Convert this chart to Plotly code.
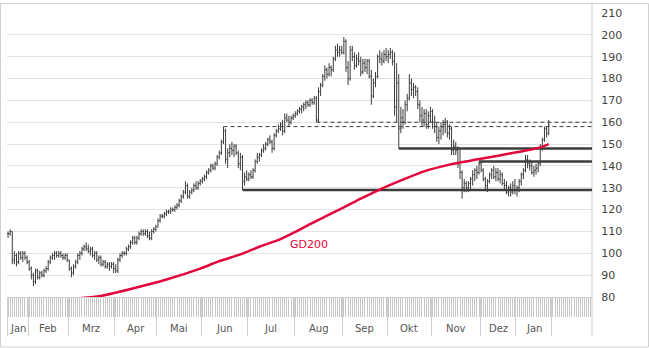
import plotly.graph_objects as go

# ---------------- data (trading-day index) ----------------
open_ = [109,109,110,97,99,96,100,98,100,98,
         96,93,90,87,92,89,91,90,92,93,
         96,98,99,100,99,100,99,98,99,
         97,93,91,94,96,99,100,102,103,102,101,
         102,99,100,97,98,95,96,94,95,94,95,
         93,92,97,99,100,100,102,103,105,107,
         105,107,109,110,109,110,108,107,110,111,
         112,115,117,117,118,119,119,120,120,121,
         122,124,126,128,131,126,128,129,131,130,132,
         133,134,135,137,138,140,139,141,144,146,
         151,156,143,146,148,147,149,146,141,144,133,135,
         134,136,135,138,142,144,145,147,148,150,152,151,
         148,154,156,157,159,156,162,161,160,162,
         163,164,165,166,167,168,169,168,170,169,
         171,161,174,177,181,184,182,185,184,189,193,192,193,
         192,197,185,180,193,190,186,189,188,183,187,
         185,188,181,172,178,181,190,189,188,191,
         190,191,192,188,167,178,157,162,160,168,171,
         178,175,176,174,168,163,161,164,159,163,
         165,160,158,153,156,158,159,160,155,157,147,149,
         147,141,137,130,132,130,132,134,136,138,137,
         141,138,134,131,133,136,138,135,137,134,
         136,132,131,128,130,128,131,
         129,130,133,136,138,143,141,140,137,138,139,141,148,152,157,155]

high = [110,111,110,101,100,101,101,101,101,99,
        97,94,91,93,93,92,92,93,94,97,
        99,100,101,101,101,101,100,100,100,
        97,94,95,97,100,101,103,104,105,104,103,
        103,101,101,99,99,97,97,96,96,96,96,
        95,98,100,101,101,103,104,106,108,108,
        108,110,111,111,111,111,110,111,112,113,
        116,118,118,119,120,120,121,121,122,123,
        125,127,129,133,132,129,130,132,133,133,134,
        135,136,138,139,141,141,142,145,147,152,
        158,157,148,150,151,150,150,147,146,145,137,138,
        137,138,139,143,146,146,148,150,151,153,154,152,
        155,157,159,160,161,164,164,163,163,164,
        165,166,167,168,169,170,170,171,171,172,
        172,176,178,182,186,185,187,186,190,195,196,195,195,
        199,198,188,195,195,192,191,192,190,189,189,
        189,189,184,180,183,191,193,192,193,194,
        193,194,193,192,187,182,167,166,170,173,182,
        180,178,177,176,170,167,166,166,165,167,
        166,163,160,158,160,161,162,161,159,158,152,151,
        149,148,138,134,133,133,135,138,139,140,142,
        142,139,135,134,137,139,140,139,139,138,
        137,134,133,131,132,133,134,
        131,134,137,139,145,145,143,142,140,141,142,150,153,158,158,161]

low = [107,108,95,95,94,95,97,96,97,95,
       92,88,85,86,88,88,89,89,91,92,
       95,97,97,98,98,98,97,97,96,
       92,89,90,93,95,97,99,101,101,100,99,
       98,97,96,95,94,94,93,93,92,93,91,
       91,91,96,98,99,99,101,102,104,104,
       104,106,108,108,108,107,106,106,109,110,
       112,114,116,116,117,118,118,119,119,120,
       121,123,125,127,125,125,127,128,129,129,131,
       132,133,134,136,137,138,138,140,143,145,
       150,141,139,144,145,144,145,139,138,129,131,133,
       133,134,134,137,141,142,144,146,147,149,150,146,
       147,153,155,156,154,155,160,158,159,161,
       162,163,164,164,165,166,167,167,168,168,
       160,160,172,176,179,180,181,181,183,188,190,190,191,
       191,183,177,179,188,184,185,186,181,182,183,
       182,180,168,171,176,180,187,186,187,188,
       187,189,186,163,160,148,155,157,159,165,170,
       172,171,172,166,160,158,158,157,157,160,
       157,155,151,150,152,154,155,153,152,145,145,145,
       139,134,125,128,128,128,129,131,133,134,136,
       137,133,129,128,132,134,134,133,133,132,
       131,129,127,126,126,127,127,
       126,128,131,134,137,139,138,136,135,136,137,140,147,151,153,154]

close = [109,110,97,99,96,100,98,100,98,96,
         93,90,87,92,89,91,90,92,93,96,
         98,99,100,99,100,99,98,99,97,
         93,91,94,96,99,100,102,103,102,101,102,
         99,100,97,98,95,96,94,95,94,95,93,
         92,97,99,100,100,102,103,105,107,105,
         107,109,110,109,110,108,107,110,111,112,
         115,117,117,118,119,119,120,120,121,122,
         124,126,128,131,126,128,129,131,130,132,133,
         134,135,137,138,140,139,141,144,146,151,
         156,143,146,148,147,149,146,141,144,133,135,134,
         136,135,138,142,144,145,147,148,150,152,151,148,
         154,156,157,159,156,162,161,160,162,163,
         164,165,166,167,168,169,168,170,169,171,
         161,174,177,181,184,182,185,184,189,193,192,193,192,
         197,185,180,193,190,186,189,188,183,187,185,
         188,181,172,178,181,190,189,188,191,190,
         191,192,188,167,178,157,162,160,168,171,178,
         175,176,174,168,163,161,164,159,163,165,
         160,158,153,156,158,159,160,155,157,147,149,147,
         141,137,130,132,130,132,134,136,138,137,141,
         138,134,131,133,136,138,135,137,134,136,
         132,131,128,130,128,131,129,
         130,133,136,138,143,141,140,137,138,139,141,148,152,157,155,159]

day = list(range(len(close)))

gd200_day = [28, 33, 44, 59, 75, 91, 100, 110, 119, 129, 137, 148,
             159, 167, 176, 189, 197, 209, 228, 244, 252, 256]
gd200 = [78.6, 79.3, 80.5, 83.9, 88.0, 93.0, 96.4, 99.5, 103.0, 106.5, 110.3, 115.8,
         121.0, 125.0, 129.2, 134.5, 137.5, 140.6, 144.0, 146.8, 148.5, 150.0]

dashed_level = [158, 160]
dashed_from = [102, 146]
solid_level = [148, 142, 129]
solid_from = [185, 223, 111]

month_names = ["Jan", "Feb", "Mrz", "Apr", "Mai", "Jun", "Jul",
               "Aug", "Sep", "Okt", "Nov", "Dez", "Jan"]
period_start = [0, 10, 29, 51, 71, 92, 114, 136, 159, 180, 201, 224, 241, 258]
n_slots = 277

y_ticks = list(range(80, 211, 10))

# ---------------- figure ----------------
DARK = "#3c3c3c"
RED = "#e2063c"
x_end = n_slots - 0.5

fig = go.Figure()

for lvl, start in zip(dashed_level, dashed_from):
    fig.add_trace(go.Scatter(x=[start, x_end], y=[lvl, lvl], mode="lines",
                             line=dict(color=DARK, width=1, dash="4px,3px"),
                             hoverinfo="skip", showlegend=False))
for lvl, start in zip(solid_level, solid_from):
    fig.add_trace(go.Scatter(x=[start, x_end], y=[lvl, lvl], mode="lines",
                             line=dict(color=DARK, width=2.5),
                             hoverinfo="skip", showlegend=False))

fig.add_trace(go.Ohlc(x=day, open=open_, high=high, low=low, close=close,
                      increasing_line_color=DARK, decreasing_line_color=DARK,
                      line_width=1, tickwidth=0.45, showlegend=False,
                      hoverinfo="skip"))

fig.add_trace(go.Scatter(x=gd200_day, y=gd200, mode="lines",
                         line=dict(color=RED, width=2.5, shape="spline", smoothing=0.6),
                         hoverinfo="skip", showlegend=False))

bounds = [s - 0.5 for s in period_start]
annotations = []
for i, name in enumerate(month_names):
    c = (bounds[i] + bounds[i + 1]) / 2
    annotations.append(dict(x=c, y=-0.11, xref="x", yref="paper", text=name,
                            showarrow=False, xanchor="center", yanchor="middle",
                            font=dict(family="DejaVu Sans", size=10, color="#555555")))
annotations.append(dict(x=142.3, y=104, xref="x", yref="y", text="GD200",
                        showarrow=False, xanchor="center", yanchor="middle",
                        font=dict(family="DejaVu Sans", size=11, color=RED)))

W, H = 649, 348
L, R, T, B = 7, 57, 10, 51
pw, ph = W - L - R, H - T - B

def px_x(px):
    return (px - L) / pw

def px_y(py):
    return (H - B - py) / ph

shapes = [
    dict(type="rect", xref="paper", yref="paper",
         x0=px_x(0.5), x1=px_x(W - 0.5), y0=px_y(H - 0.5), y1=px_y(0.5),
         line=dict(color="#d0d0d0", width=1), layer="below"),
    dict(type="line", xref="paper", yref="paper",
         x0=1, x1=1, y0=px_y(337), y1=px_y(0.5),
         line=dict(color="#cfcfcf", width=1), layer="below"),
]

fig.update_layout(
    width=W, height=H,
    margin=dict(l=L, r=R, t=T, b=B),
    paper_bgcolor="white", plot_bgcolor="white",
    showlegend=False,
    shapes=shapes,
    annotations=annotations,
    xaxis=dict(range=[-0.5, x_end], showgrid=False, zeroline=False,
               showline=True, linecolor="#cfcfcf", linewidth=1,
               tickmode="array", tickvals=bounds, ticks="outside",
               ticklen=38, tickcolor="#cfcfcf", tickwidth=1,
               showticklabels=False, rangeslider=dict(visible=False),
               minor=dict(ticks="outside", ticklen=19, tickcolor="#c6c6c6",
                          tickwidth=1, dtick=1, tick0=0, showgrid=False),
               fixedrange=True),
    yaxis=dict(range=[80, 210], side="right", tickmode="array", tickvals=y_ticks,
               showgrid=True, gridcolor="#e3e3e3", gridwidth=1, zeroline=False,
               showline=False, ticks="outside", ticklen=6,
               tickcolor="rgba(0,0,0,0)",
               tickfont=dict(family="DejaVu Sans", size=11, color="#444444"),
               fixedrange=True),
)

fig.write_html("out.html")
